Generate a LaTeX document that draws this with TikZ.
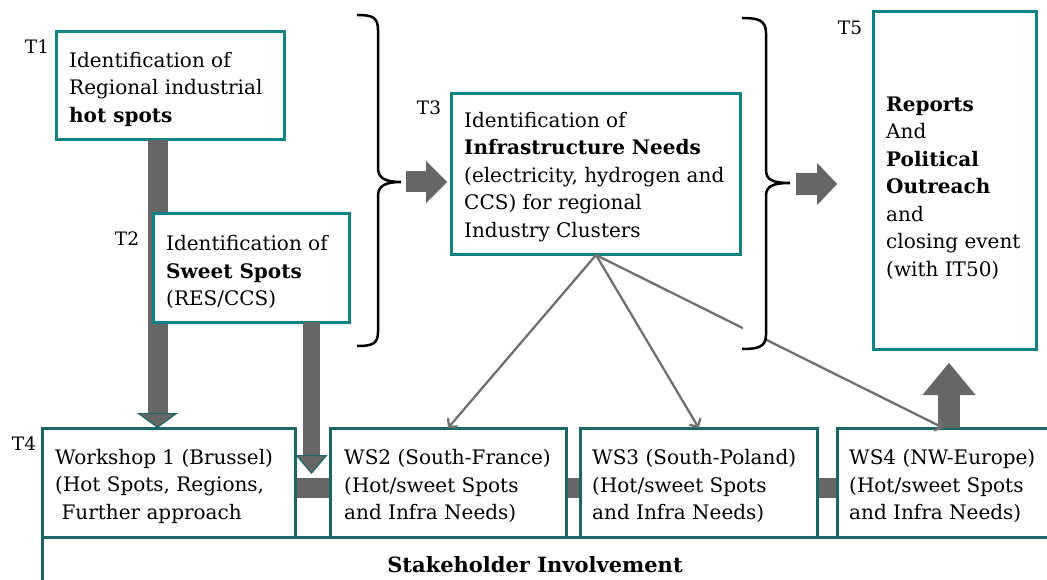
\documentclass[tikz,border=0pt]{standalone}
\usepackage{fontspec}
\setmainfont{DejaVu Serif}
\usetikzlibrary{arrows.meta,calc}
\definecolor{tealA}{RGB}{19,130,130}
\definecolor{tealB}{RGB}{27,102,102}
\definecolor{agray}{RGB}{102,102,102}
\definecolor{lgray}{RGB}{112,112,112}
\begin{document}
\begin{tikzpicture}[x=1pt,y=-1pt,
  tbox/.style={draw=tealA, line width=3pt, fill=white, rectangle, outer sep=0pt, inner sep=0pt},
  wbox/.style={tbox, draw=tealB},
  txt/.style={anchor=west, align=left, inner sep=0pt, font=\fontsize{20}{27.5}\selectfont},
  tlabel/.style={inner sep=0pt, font=\fontsize{18.5}{20}\selectfont},
  bar/.style={draw=agray, line width=20pt, shorten <=1.5pt, shorten >=1.5pt},
  thinarrow/.style={draw=lgray, line width=2.3pt, -{Straight Barb[length=6pt,width=13pt]}},
  bracepath/.style={draw=black, line width=2.5pt},
]
\useasboundingbox[fill=white] (0,0) rectangle (1047,580);

% bottom row
\node[wbox, minimum width=1018pt, minimum height=63pt] (sh) at (551,568.5) {};
\node[inner sep=0pt, font=\fontsize{21}{24}\selectfont\bfseries] (shtxt) at (535,565) {Stakeholder Involvement};

\node[wbox, minimum width=253pt, minimum height=109pt] (ws1) at (168.5,482.5) {};
\node[wbox, minimum width=236pt, minimum height=109pt] (ws2) at (448,482.5) {};
\node[wbox, minimum width=236.5pt, minimum height=109pt] (ws3) at (698.75,482.5) {};
\node[wbox, minimum width=213pt, minimum height=109pt] (ws4) at (943.5,482.5) {};

\node[txt] (ws1txt) at (55,486) {Workshop 1 (Brussel)\\(Hot Spots, Regions,\\\ Further approach};
\node[txt] (ws2txt) at (344,486) {WS2 (South-France)\\(Hot/sweet Spots\\and Infra Needs)};
\node[txt] (ws3txt) at (592,486) {WS3 (South-Poland)\\(Hot/sweet Spots\\and Infra Needs)};
\node[txt] (ws4txt) at (849,486) {WS4 (NW-Europe)\\(Hot/sweet Spots\\and Infra Needs)};

\draw[bar] ([yshift=-5.5pt]ws1.east) -- ([yshift=-5.5pt]ws2.west);
\draw[bar] ([yshift=-5.5pt]ws2.east) -- ([yshift=-5.5pt]ws3.west);
\draw[bar] ([yshift=-5.5pt]ws3.east) -- ([yshift=-5.5pt]ws4.west);

% T1
\node[tbox, minimum width=228pt, minimum height=108pt] (t1) at (170,86) {};
\node[txt] (t1txt) at (69,89) {Identification of\\Regional industrial\\\textbf{hot spots}};

\draw[draw=agray, line width=20pt, -{Triangle[width=41pt,length=15pt,line width=1.2pt,color=tealB,fill=agray]}]
  ([xshift=-12.5pt]t1.south) -- ([xshift=-11pt]ws1.north);

% T2
\node[tbox, minimum width=196pt, minimum height=108pt] (t2) at (251,268) {};
\node[txt] (t2txt) at (166,272) {Identification of\\\textbf{Sweet Spots}\\(RES/CCS)};

\draw[draw=agray, line width=17pt, -{Triangle[width=32pt,length=19pt,line width=1.2pt,color=tealB,fill=agray]}]
  ([xshift=60.5pt]t2.south) -- ++(0,152);

% T3
\node[tbox, minimum width=289pt, minimum height=161.5pt] (t3) at (596,174.25) {};
\node[txt] (t3txt) at (464,177) {Identification of\\\textbf{Infrastructure Needs}\\(electricity, hydrogen and\\CCS) for regional\\Industry Clusters};

% T5
\node[tbox, minimum width=163pt, minimum height=337pt] (t5) at (954.5,180.5) {};
\node[txt] (t5txt) at (886,188) {\textbf{Reports}\\And\\\textbf{Political}\\\textbf{Outreach}\\and\\closing event\\(with IT50)};

% labels
\node[tlabel] (l1) at (37,47) {T1};
\node[tlabel] (l2) at (127,239) {T2};
\node[tlabel] (l3) at (429,108) {T3};
\node[tlabel] (l4) at (24,444) {T4};
\node[tlabel] (l5) at (850,28) {T5};

% brace 1 and arrow
\draw[bracepath] (357,15) .. controls (372,15) and (378,17) .. (378,30) -- (378,168)
  .. controls (378,178) and (385,182) .. (401,182) .. controls (385,182) and (378,186) .. (378,196)
  -- (378,332) .. controls (378,344) and (372,346) .. (357,346);
\coordinate (b1) at (401,182);
\draw[draw=agray, line width=21pt, shorten >=4.5pt, -{Triangle[width=42pt,length=21pt,line width=0.1pt,fill=agray,color=agray]}]
  ([xshift=5pt]b1) -- (b1 -| t3.west);

% up arrow
\draw[draw=agray, line width=22pt, shorten >=14pt, -{Triangle[width=53pt,length=32pt,line width=0.1pt,fill=agray,color=agray]}]
  ([xshift=5.5pt]ws4.north) -- ([xshift=-5.5pt]t5.south);

% thin connectors
\draw[thinarrow] (t3.south) -- (ws2.north);
\draw[thinarrow] (t3.south) -- (ws3.north);
\draw[thinarrow] (t3.south) -- (ws4.north);

% brace 2 and arrow
\fill[white] (742.5,290) rectangle (765,347);
\draw[bracepath] (742,18) .. controls (758,18) and (766,20) .. (766,33) -- (766,170)
  .. controls (766,180) and (773,183) .. (790,183) .. controls (773,183) and (766,186) .. (766,196)
  -- (766,335) .. controls (766,347) and (758,349) .. (742,349);
\coordinate (b2) at (790,184);
\draw[draw=agray, line width=22pt, shorten >=36pt, -{Triangle[width=42pt,length=20pt,line width=0.1pt,fill=agray,color=agray]}]
  ([xshift=6pt]b2) -- (b2 -| t5.west);
\end{tikzpicture}
\end{document}
